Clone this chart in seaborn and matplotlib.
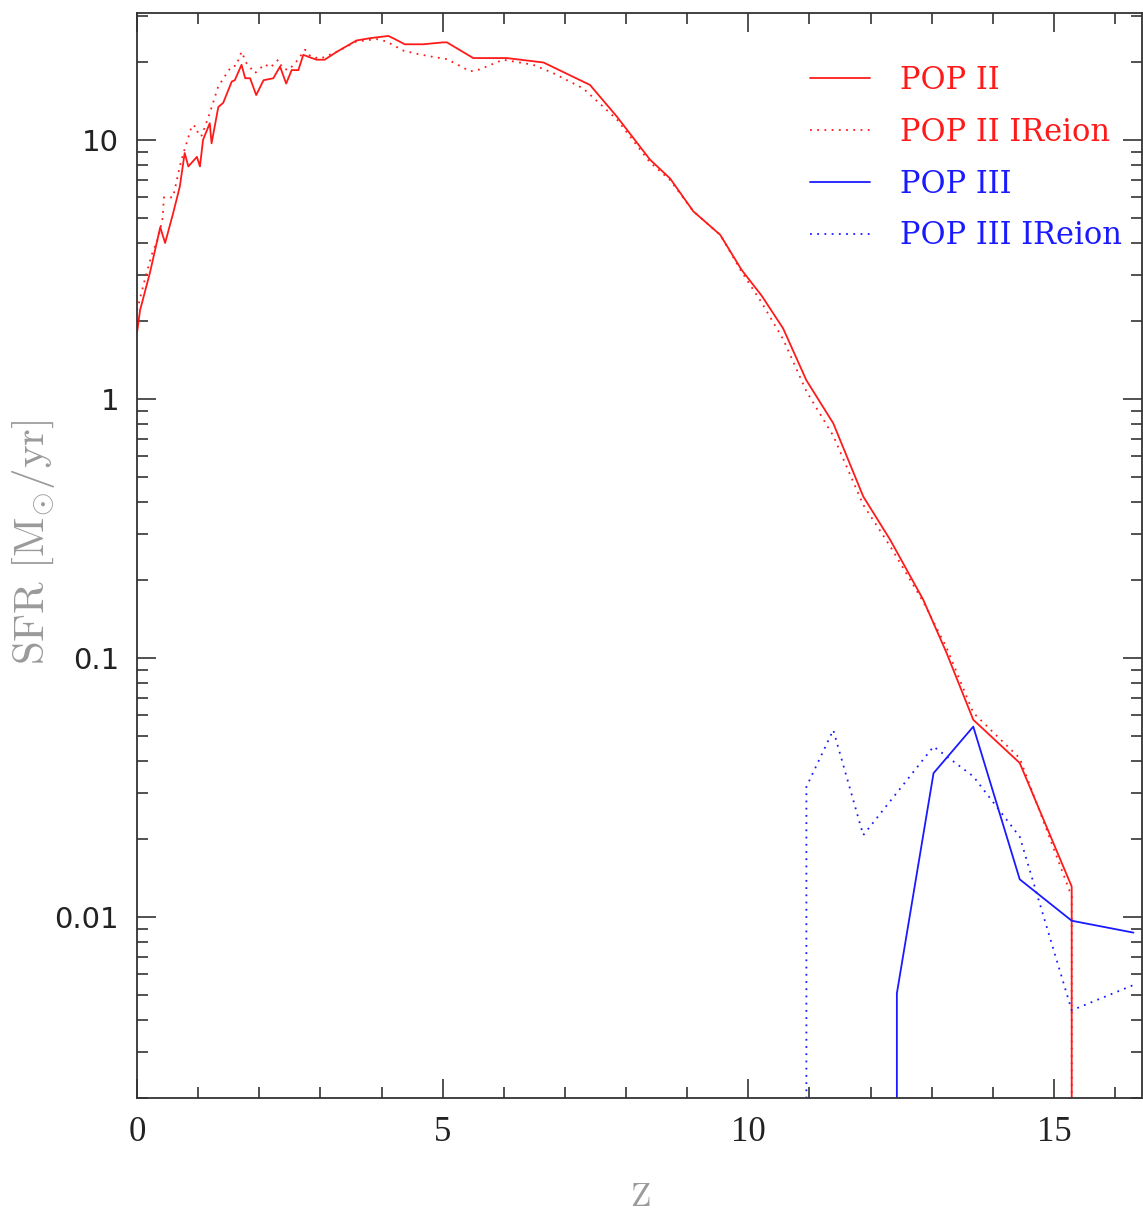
import numpy as np
import pandas as pd
import matplotlib
matplotlib.use('Agg')
import matplotlib.pyplot as plt
import matplotlib.ticker as mticker
import seaborn as sns

# POP II (solid)
z_pop2 = [0.0, 0.05, 0.21, 0.38, 0.46, 0.59, 0.70, 0.78, 0.84, 0.98, 1.03, 1.08, 1.19, 1.22,
          1.33, 1.41, 1.55, 1.60, 1.71, 1.77, 1.85, 1.95, 2.07, 2.23, 2.34, 2.44, 2.53, 2.64,
          2.72, 2.86, 2.94, 3.07, 3.27, 3.59, 3.81, 4.11, 4.19, 4.38, 4.68, 5.01, 5.07, 5.50,
          6.05, 6.65, 7.41, 7.85, 8.39, 8.72, 9.10, 9.54, 9.89, 10.22, 10.57, 10.95, 11.39,
          11.88, 12.32, 12.86, 13.24, 13.68, 14.44, 15.29, 15.29]
sfr_pop2 = [1.8, 2.2, 3.06, 4.6, 4.0, 5.2, 6.6, 8.9, 7.9, 8.6, 7.9, 10.0, 11.6, 9.7,
            13.4, 13.9, 16.8, 17.0, 19.5, 17.3, 17.3, 14.9, 17.0, 17.3, 19.2, 16.5, 18.6, 18.6,
            21.3, 20.7, 20.4, 20.4, 21.9, 24.2, 24.7, 25.2, 24.7, 23.4, 23.4, 23.8, 23.8, 20.7,
            20.7, 19.9, 16.3, 12.3, 8.4, 7.1, 5.3, 4.3, 3.15, 2.5, 1.87, 1.18, 0.805,
            0.42, 0.286, 0.168, 0.105, 0.0577, 0.0393, 0.0131, 1e-4]

# POP II IReion (dotted)
z_pop2_ir = [0.0, 0.13, 0.24, 0.35, 0.42, 0.44, 0.59, 0.70, 0.76, 0.81, 0.90, 0.98, 1.00, 1.06,
             1.19, 1.33, 1.47, 1.55, 1.62, 1.71, 1.79, 1.93, 2.09, 2.18, 2.31, 2.38, 2.48, 2.61,
             2.75, 2.84, 3.00, 3.27, 3.59, 3.92, 4.08, 4.36, 4.58, 4.80, 5.07, 5.45, 5.60, 5.99,
             6.48, 6.81, 7.30, 7.85, 8.39, 8.72, 9.10, 9.54, 9.89, 10.22, 10.57, 10.95, 11.39,
             11.88, 12.32, 12.86, 13.24, 13.68, 14.44, 15.29, 15.29]
sfr_pop2_ir = [2.2, 2.9, 3.6, 4.2, 5.0, 6.0, 6.0, 7.9, 8.9, 9.7, 11.4, 11.2, 10.4, 10.4,
               12.7, 16.1, 18.1, 19.3, 19.3, 21.9, 19.8, 18.1, 19.6, 19.0, 20.4, 18.9, 18.6, 20.1,
               22.3, 21.0, 20.6, 21.9, 24.0, 24.5, 24.0, 22.1, 21.5, 21.0, 20.5, 18.4, 18.7, 20.4,
               19.5, 18.1, 15.8, 12.0, 8.2, 7.0, 5.3, 4.3, 3.1, 2.35, 1.7, 1.07, 0.72,
               0.39, 0.27, 0.165, 0.11, 0.0614, 0.041, 0.012, 1e-4]

# POP III (solid)
z_pop3 = [12.43, 12.43, 13.03, 13.68, 14.44, 15.29, 16.30]
sfr_pop3 = [1e-4, 0.00507, 0.0359, 0.0543, 0.01397, 0.00967, 0.0087]

# POP III IReion (dotted)
z_pop3_ir = [10.95, 10.95, 11.39, 11.88, 13.03, 13.68, 14.44, 15.29, 16.30]
sfr_pop3_ir = [1e-4, 0.0318, 0.0527, 0.0207, 0.0455, 0.0349, 0.0204, 0.00436, 0.00546]

series = [
    ('POP II', z_pop2, sfr_pop2, '#ff1a1a', '-'),
    ('POP II IReion', z_pop2_ir, sfr_pop2_ir, '#ff1a1a', (0, (1, 3))),
    ('POP III', z_pop3, sfr_pop3, '#1a1aff', '-'),
    ('POP III IReion', z_pop3_ir, sfr_pop3_ir, '#1a1aff', (0, (1, 3))),
]

sns.set_style('ticks')
plt.rcParams['mathtext.fontset'] = 'cm'

fig = plt.figure(figsize=(11.43, 12.13), dpi=100)
ax = fig.add_axes([137 / 1143, 115 / 1213, 1005 / 1143, 1085 / 1213])

for name, z, sfr, col, ls in series:
    df = pd.DataFrame({'z': z, 'sfr': sfr})
    sns.lineplot(data=df, x='z', y='sfr', sort=False, estimator=None, ax=ax,
                 color=col, linestyle=ls, linewidth=1.3, label=name)

ax.set_yscale('log')
ax.set_xlim(0, 16.44)
ax.set_ylim(0.002, 30.9)

ax.xaxis.set_major_locator(mticker.MultipleLocator(5))
ax.xaxis.set_minor_locator(mticker.MultipleLocator(1))
ax.yaxis.set_major_locator(mticker.LogLocator(base=10))
ax.yaxis.set_minor_locator(mticker.LogLocator(base=10, subs=np.arange(2, 10)))
ax.yaxis.set_minor_formatter(mticker.NullFormatter())
ax.yaxis.set_major_formatter(mticker.FuncFormatter(lambda v, p: '%g' % v))

ax.tick_params(which='both', direction='in', top=True, right=True, color='#333333', width=1.2)
ax.tick_params(which='major', length=14, pad=13)
ax.tick_params(which='minor', length=8)
for lab in ax.get_yticklabels():
    lab.set_fontfamily('DejaVu Sans')
    lab.set_fontsize(21)
    lab.set_color('#222222')
for lab in ax.get_xticklabels():
    lab.set_fontfamily('Liberation Serif')
    lab.set_fontsize(25)
    lab.set_color('#222222')
for sp in ax.spines.values():
    sp.set_color('#333333')
    sp.set_linewidth(1.3)

ax.set_ylabel(r'$\mathrm{SFR}\ [\mathrm{M}_{\odot}/\mathrm{yr}]$', fontsize=31, color='#9a9a9a')
ax.yaxis.set_label_coords(-0.080, 0.512)
ax.set_xlabel(r'$\mathrm{Z}$', fontsize=24, color='#9a9a9a')
ax.xaxis.set_label_coords(0.5005, -0.0755)

leg = ax.legend(loc='upper left', bbox_to_anchor=(0.67, 0.952), frameon=False,
                borderpad=0, borderaxespad=0, handlelength=1.95, handletextpad=1.0,
                labelspacing=0.68, labelcolor='linecolor',
                prop={'family': 'DejaVu Serif', 'size': 22})

fig.savefig('out.png', dpi=100)
